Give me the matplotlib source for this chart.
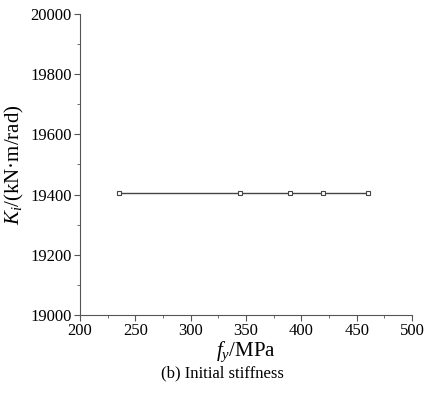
import matplotlib.pyplot as plt
from matplotlib.ticker import MultipleLocator

plt.rcParams['font.family'] = ['Liberation Serif', 'DejaVu Serif']
plt.rcParams['mathtext.fontset'] = 'custom'
plt.rcParams['mathtext.rm'] = 'Liberation Serif'
plt.rcParams['mathtext.it'] = 'Liberation Serif:italic'

# Data
fy = [235, 345, 390, 420, 460]
ki = [19405, 19405, 19405, 19405, 19405]

fig = plt.figure(figsize=(4.27, 3.99), dpi=100)
ax = fig.add_axes([0.187, 0.2105, 0.778, 0.7545])

ax.plot(fy, ki, color="#444444", lw=1.0, marker="s", markersize=3.5,
        markerfacecolor="white", markeredgecolor="#444444", markeredgewidth=0.8)

ax.set_xlim(200, 500)
ax.set_ylim(19000, 20000)
ax.xaxis.set_major_locator(MultipleLocator(50))
ax.xaxis.set_minor_locator(MultipleLocator(25))
ax.yaxis.set_major_locator(MultipleLocator(200))
ax.yaxis.set_minor_locator(MultipleLocator(100))

for s in ["top", "right"]:
    ax.spines[s].set_visible(False)
for s in ["left", "bottom"]:
    ax.spines[s].set_color("#555555")
    ax.spines[s].set_linewidth(0.8)

ax.tick_params(which="both", direction="out", colors="#555555", labelcolor="black", labelsize=12)
ax.tick_params(which="major", length=4, pad=2)
ax.tick_params(which="minor", length=2)

ax.set_xlabel(r"$f_y$/MPa", fontsize=15, labelpad=0)
ax.set_ylabel(r"$K_i$/(kN·m/rad)", fontsize=15, labelpad=3)

fig.text(0.52, 0.055, "(b) Initial stiffness", ha="center", fontsize=12)

fig.savefig("out.png", dpi=100)
